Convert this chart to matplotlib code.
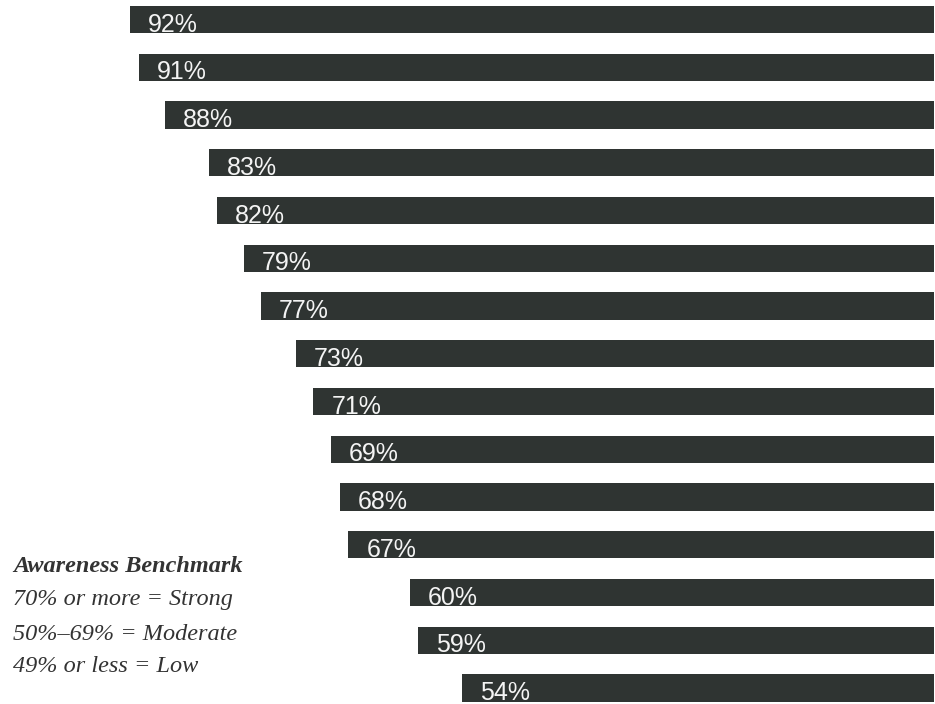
import numpy as np
import matplotlib.pyplot as plt

# awareness scores, top to bottom
values = [92, 91, 88, 83, 82, 79, 77, 73, 71, 69, 68, 67, 60, 59, 54]
labels = [f"{v}%" for v in values]

legend_title = "Awareness Benchmark"
legend_lines = ["70% or more = Strong", "50%\u201369% = Moderate", "49% or less = Low"]

bar_color = "#2f3432"
text_color = "#333333"

W, H = 935, 704
fig = plt.figure(figsize=(W / 100, H / 100), dpi=100)
ax = fig.add_axes([0, 0, 1, 1])

px_per_unit = 8.74
row_px = 47.75
first_row_px = 19.5

y = np.arange(len(values))
ax.barh(y, values, left=0, height=0.57, color=bar_color)

# bars grow leftward from the right edge
ax.set_xlim(934 / px_per_unit, -1 / px_per_unit)
ax.set_ylim((H - first_row_px) / row_px, -first_row_px / row_px)
ax.axis("off")

for yi, v, lab in zip(y, values, labels):
    ax.text(v - 18 / px_per_unit, yi + 0.285 - 1.5 / row_px, lab,
            ha="left", va="baseline", color="#f4f4f4", fontsize=18,
            family="Liberation Sans")

fig.text(13 / W, 1 - 572 / H, legend_title, ha="left", va="baseline",
         fontsize=17.5, style="italic", weight="bold", family="Liberation Serif",
         color=text_color)
for i, line in enumerate(legend_lines):
    base = [605, 640, 672][i]
    fig.text(13 / W, 1 - base / H, line, ha="left", va="baseline",
             fontsize=17.5, style="italic", family="Liberation Serif",
             color=text_color)

fig.savefig("out.png", dpi=100)
